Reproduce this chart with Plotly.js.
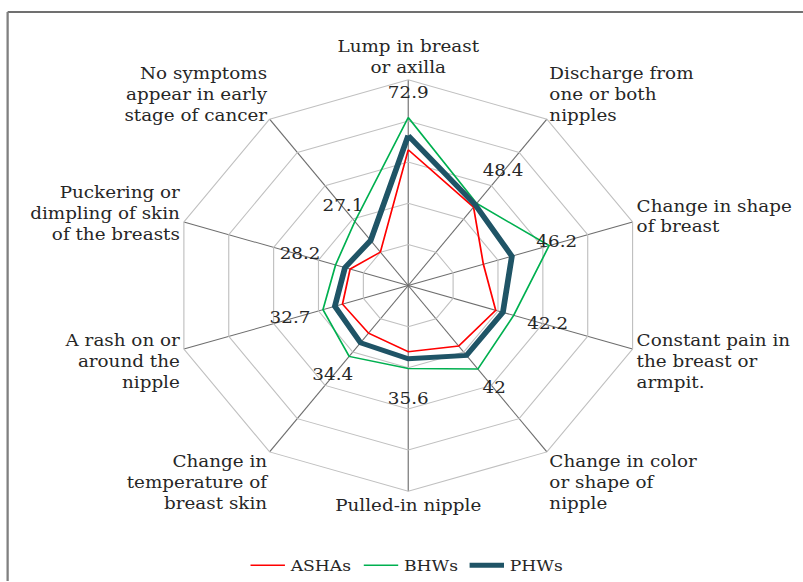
<!DOCTYPE html>
<html>
<head>
<meta charset="utf-8">
<script src="https://cdn.plot.ly/plotly-3.0.1.min.js"></script>
<style>
  html, body { margin:0; padding:0; background:#fff; overflow:hidden; }
  #wrap { width:803px; height:582px; overflow:hidden; }
  #plot { width:700px; height:582px; transform:scaleX(1.1471); transform-origin:0 0; }
</style>
</head>
<body>
<div id="wrap"><div id="plot"></div></div>
<script>
// Categories, clockwise from the top
const categories = [
  "Lump in breast<br>or axilla",
  "Discharge from<br>one or both<br>nipples",
  "Change in shape<br>of breast",
  "Constant pain in<br>the breast or<br>armpit.",
  "Change in color<br>or shape of<br>nipple",
  "Pulled-in nipple",
  "Change in<br>temperature of<br>breast skin",
  "A rash on or<br>around the<br>nipple",
  "Puckering or<br>dimpling of skin<br>of the breasts",
  "No symptoms<br>appear in early<br>stage of cancer"
];
const ashas = [66.0, 47.1, 33.5, 39.0, 36.4, 32.2, 28.6, 29.3, 25.9, 20.1];
const bhws  = [81.7, 49.4, 62.8, 47.0, 50.2, 40.3, 42.6, 38.0, 32.4, 38.5];
const phws  = [72.9, 48.4, 46.2, 42.2, 42.0, 35.6, 34.4, 32.7, 28.2, 27.1];
const seriesNames = ["ASHAs", "BHWs", "PHWs"];

const FONT = "DejaVu Serif";
const close = a => a.concat([a[0]]);

function lineTrace(name, vals, color, width) {
  return {
    type: "scatterpolar", mode: "lines", name: name,
    r: close(vals), theta: close(categories),
    line: {color: color, width: width},
    hoverinfo: "name+r"
  };
}

const labelOffset = 20; // data labels sit one ring outside the PHW point
const traces = [
  lineTrace(seriesNames[0], ashas, "#ff0000", 1.5),
  lineTrace(seriesNames[1], bhws, "#00b050", 1.5),
  lineTrace(seriesNames[2], phws, "#1f5466", 5),
  {
    type: "scatterpolar", mode: "text", showlegend: false, hoverinfo: "skip",
    r: phws.map(v => v + labelOffset), theta: categories,
    text: phws.map(v => String(v)),
    textposition: "middle center",
    textfont: {family: FONT, size: 16, color: "#262626"},
    cliponaxis: false
  }
];

const layout = {
  width: 700, height: 582,
  margin: {l:0, r:0, t:0, b:0},
  paper_bgcolor: "#fff",
  font: {family: FONT, size: 16, color: "#262626"},
  showlegend: true,
  legend: {
    orientation: "h", x: 0.507, xanchor: "center", y: 0.026, yanchor: "middle",
    font: {family: FONT, size: 15, color: "#262626"},
    itemwidth: 30, traceorder: "normal"
  },
  polar: {
    domain: {x: [0.2141, 0.8027], y: [0.1546, 0.8625]},
    gridshape: "linear",
    bgcolor: "rgba(0,0,0,0)",
    radialaxis: {
      range: [0, 100], dtick: 20, showticklabels: false, ticks: "",
      showline: false, gridcolor: "#c0c0c0", gridwidth: 1
    },
    angularaxis: {
      direction: "clockwise", rotation: 90,
      showline: true, linecolor: "#c0c0c0", linewidth: 1,
      gridcolor: "#6e6e6e", gridwidth: 1, ticks: "",
      tickfont: {family: FONT, size: 16, color: "#262626"}
    }
  },
  shapes: [
    {type: "line", xref: "paper", yref: "paper", x0: 0.0095, x1: 1.0, y0: 0.9794, y1: 0.9794,
     line: {color: "#404040", width: 1.5}},
    {type: "line", xref: "paper", yref: "paper", x0: 0.0095, x1: 0.0095, y0: 0.9794, y1: 0,
     line: {color: "#808080", width: 2}}
  ]
};

Plotly.newPlot("plot", traces, layout, {displayModeBar: false, staticPlot: true});
</script>
</body>
</html>
